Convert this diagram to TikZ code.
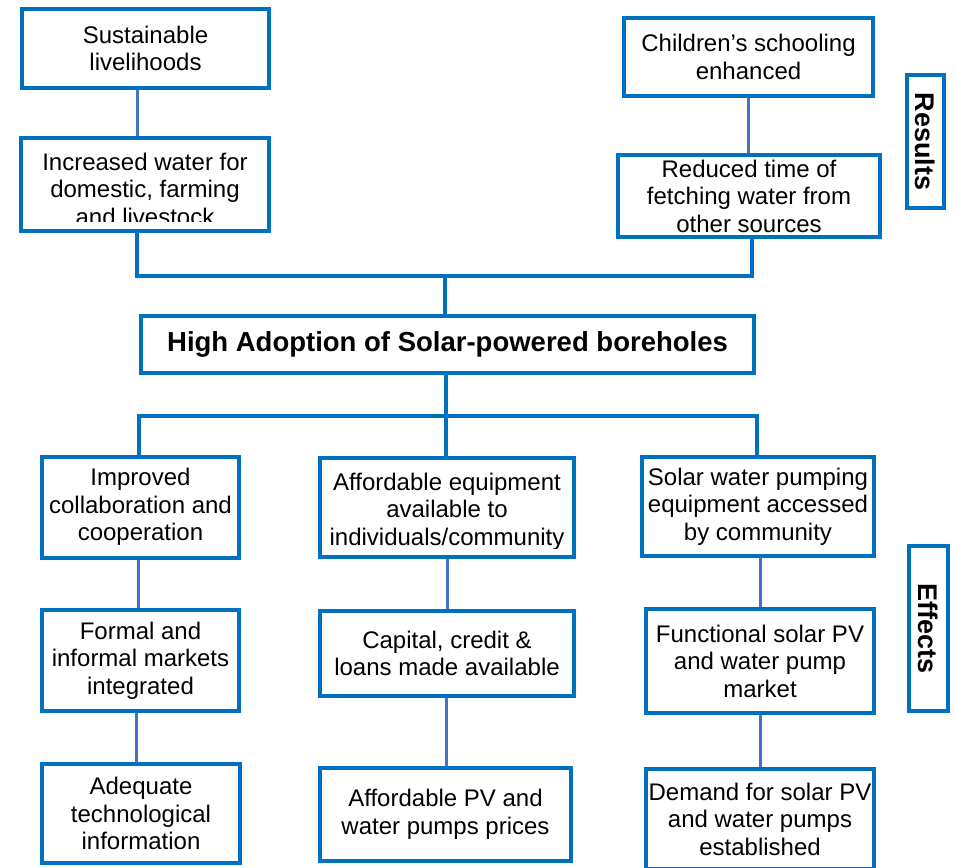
\documentclass[tikz,border=0pt]{standalone}
\usepackage{fontspec}
\setmainfont{Liberation Sans}
\definecolor{bdr}{HTML}{0070C0}
\definecolor{lnkc}{HTML}{4472C4}
\tikzset{
  bx/.style={draw=bdr, line width=4pt, align=center, inner sep=0pt, text=black,
             font=\fontsize{24}{27.5}\selectfont},
  txt/.style={align=center, inner sep=0pt, text=black, font=\fontsize{24}{27.5}\selectfont},
  lbl/.style={draw=bdr, line width=4pt, inner sep=0pt, rotate=-90, text=black,
              font=\fontsize{27}{30}\selectfont\bfseries},
  lnk/.style={draw=lnkc, line width=3pt},
  brk/.style={draw=bdr, line width=3.5pt},
}
\begin{document}
\begin{tikzpicture}[x=1pt,y=-1pt]
\useasboundingbox[fill=white] (0,0) rectangle (955,867);

% Results level
\node[bx, minimum width=247pt, minimum height=79pt] (b1) at (145.5,48.5) {Sustainable\\livelihoods};
\node[bx, minimum width=248pt, minimum height=93pt] (b2) at (145,184.5) {};
\begin{scope}
  \clip (21,138) rectangle (269,221);
  \node[txt] (t2) at (145,189) {Increased water for\\domestic, farming\\and livestock};
\end{scope}
\node[bx, minimum width=249pt, minimum height=78pt] (b3) at (748.5,57) {Children’s schooling\\enhanced};
\node[bx, minimum width=262pt, minimum height=82pt] (b4) at (749,196) {Reduced time of\\fetching water from\\other sources};
\node[lbl, minimum width=133pt, minimum height=37pt] (res) at (925.5,141.5) {Results};

% Central node
\node[bx, minimum width=613pt, minimum height=57pt, font=\fontsize{27.5}{30}\selectfont\bfseries] (b5) at (447.5,344.5) {High Adoption of Solar-powered boreholes};

% Effects level
\node[bx, minimum width=197pt, minimum height=101pt] (b6) at (140.5,507) {Improved\\collaboration and\\cooperation};
\node[bx, minimum width=254pt, minimum height=99pt] (b7) at (447,507.5) {};
\begin{scope}
  \clip (320,458) rectangle (574,548);
  \node[txt] (t7) at (447,511.5) {Affordable equipment\\available to\\individuals/community};
\end{scope}
\node[bx, minimum width=232pt, minimum height=99pt] (b8) at (758,506.5) {Solar water pumping\\equipment accessed\\by community};
\node[lbl, minimum width=165pt, minimum height=39pt] (eff) at (928.5,628.5) {Effects};

\node[bx, minimum width=197pt, minimum height=101pt] (b9) at (140.5,660.5) {Formal and\\informal markets\\integrated};
\node[bx, minimum width=254pt, minimum height=85pt] (b10) at (447,653.5) {Capital, credit \&\\loans made available};
\node[bx, minimum width=228pt, minimum height=104pt] (b11) at (760,661) {Functional solar PV\\and water pump\\market};

\node[bx, minimum width=198pt, minimum height=99pt] (b12) at (141,813.5) {Adequate\\technological\\information};
\node[bx, minimum width=251pt, minimum height=93pt] (b13) at (445.5,814.5) {Affordable PV and\\water pumps prices};
\node[bx, minimum width=228pt, minimum height=100pt] (b14) at (760,819) {Demand for solar PV\\and water pumps\\established};

% coordinates for connectors
\coordinate (x137) at (137,0);
\coordinate (x748) at (748,0);
\coordinate (j1) at (137,276);
\coordinate (j2) at (752,276);
\coordinate (j3) at (445,276);
\coordinate (k1) at (139,416);
\coordinate (k2) at (446,416);
\coordinate (k3) at (757,416);
\coordinate (x138) at (138,0);
\coordinate (x447) at (447,0);
\coordinate (x760) at (760,0);
\coordinate (x136) at (136,0);
\coordinate (x446) at (446,0);

% upper connectors
\draw[lnk] (b1.south -| x137) -- (b2.north -| x137);
\draw[lnk] (b3.south -| x748) -- (b4.north -| x748);
\draw[brk] (b2.south -| j1) -- (j1) -- (j2) -- (b4.south -| j2);
\draw[brk] (j3) -- (b5.north -| j3);

% lower bracket
\draw[brk] (b5.south -| k2) -- (k2);
\draw[brk] (b6.north -| k1) -- (k1) -- (k3) -- (b8.north -| k3);
\draw[brk] (k2) -- (b7.north -| k2);

% effect chains
\draw[lnk] (b6.south -| x138) -- (b9.north -| x138);
\draw[lnk] (b7.south -| x447) -- (b10.north -| x447);
\draw[lnk] (b8.south -| x760) -- (b11.north -| x760);
\draw[lnk] (b9.south -| x136) -- (b12.north -| x136);
\draw[lnk] (b10.south -| x446) -- (b13.north -| x446);
\draw[lnk] (b11.south -| x760) -- (b14.north -| x760);
\end{tikzpicture}
\end{document}
